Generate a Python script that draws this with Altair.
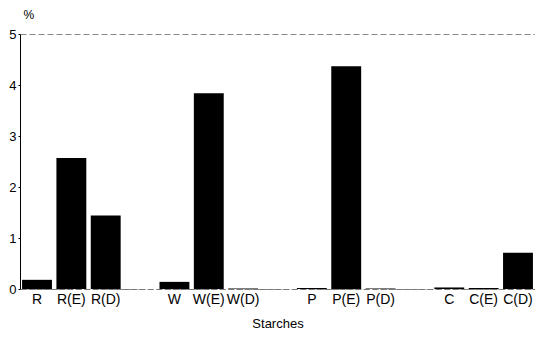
import altair as alt
import pandas as pd

categories = ["R", "R(E)", "R(D)", "g1", "W", "W(E)", "W(D)", "g2",
              "P", "P(E)", "P(D)", "g3", "C", "C(E)", "C(D)"]
bar_names = ["R", "R(E)", "R(D)", "W", "W(E)", "W(D)",
             "P", "P(E)", "P(D)", "C", "C(E)", "C(D)"]
values = [0.18, 2.57, 1.44, 0.14, 3.84, 0.01,
          0.02, 4.37, 0.01, 0.03, 0.02, 0.71]

df = pd.DataFrame({"starch": bar_names, "pct": values})

FONT = "Liberation Sans"

chart = alt.Chart(df).mark_bar(color="black").encode(
    x=alt.X("starch:N", sort=categories,
            scale=alt.Scale(domain=categories, paddingInner=0.13, paddingOuter=0.06),
            axis=alt.Axis(title="Starches", labelAngle=0, labelOverlap=False,
                          labelExpr="indexof(datum.label, 'g') == 0 ? '' : datum.label",
                          ticks=False, domainColor="#777", domainDash=[5, 3],
                          labelFontSize=14, titleFontSize=13, labelPadding=3,
                          titlePadding=11, labelColor="black", titleColor="black",
                          titleFontWeight="normal", labelFont=FONT, titleFont=FONT)),
    y=alt.Y("pct:Q", scale=alt.Scale(domain=[0, 5], nice=False),
            axis=alt.Axis(title="%", titleAngle=0, titleX=3, titleY=-13,
                          titleAlign="left", titleBaseline="bottom",
                          values=[0, 1, 2, 3, 4, 5], grid=False, tickSize=2,
                          tickColor="black", domainColor="black",
                          labelFontSize=13, titleFontSize=12, labelPadding=2,
                          labelColor="black", titleColor="black",
                          titleFontWeight="normal", labelFont=FONT, titleFont=FONT)),
).properties(
    width=515, height=255, padding={"left": 0, "top": 0, "right": 0, "bottom": 0}
).configure_view(
    stroke="#888", strokeDash=[6, 3], strokeWidth=1
)

chart.save("out.html", embed_options={"renderer": "svg", "actions": False})
